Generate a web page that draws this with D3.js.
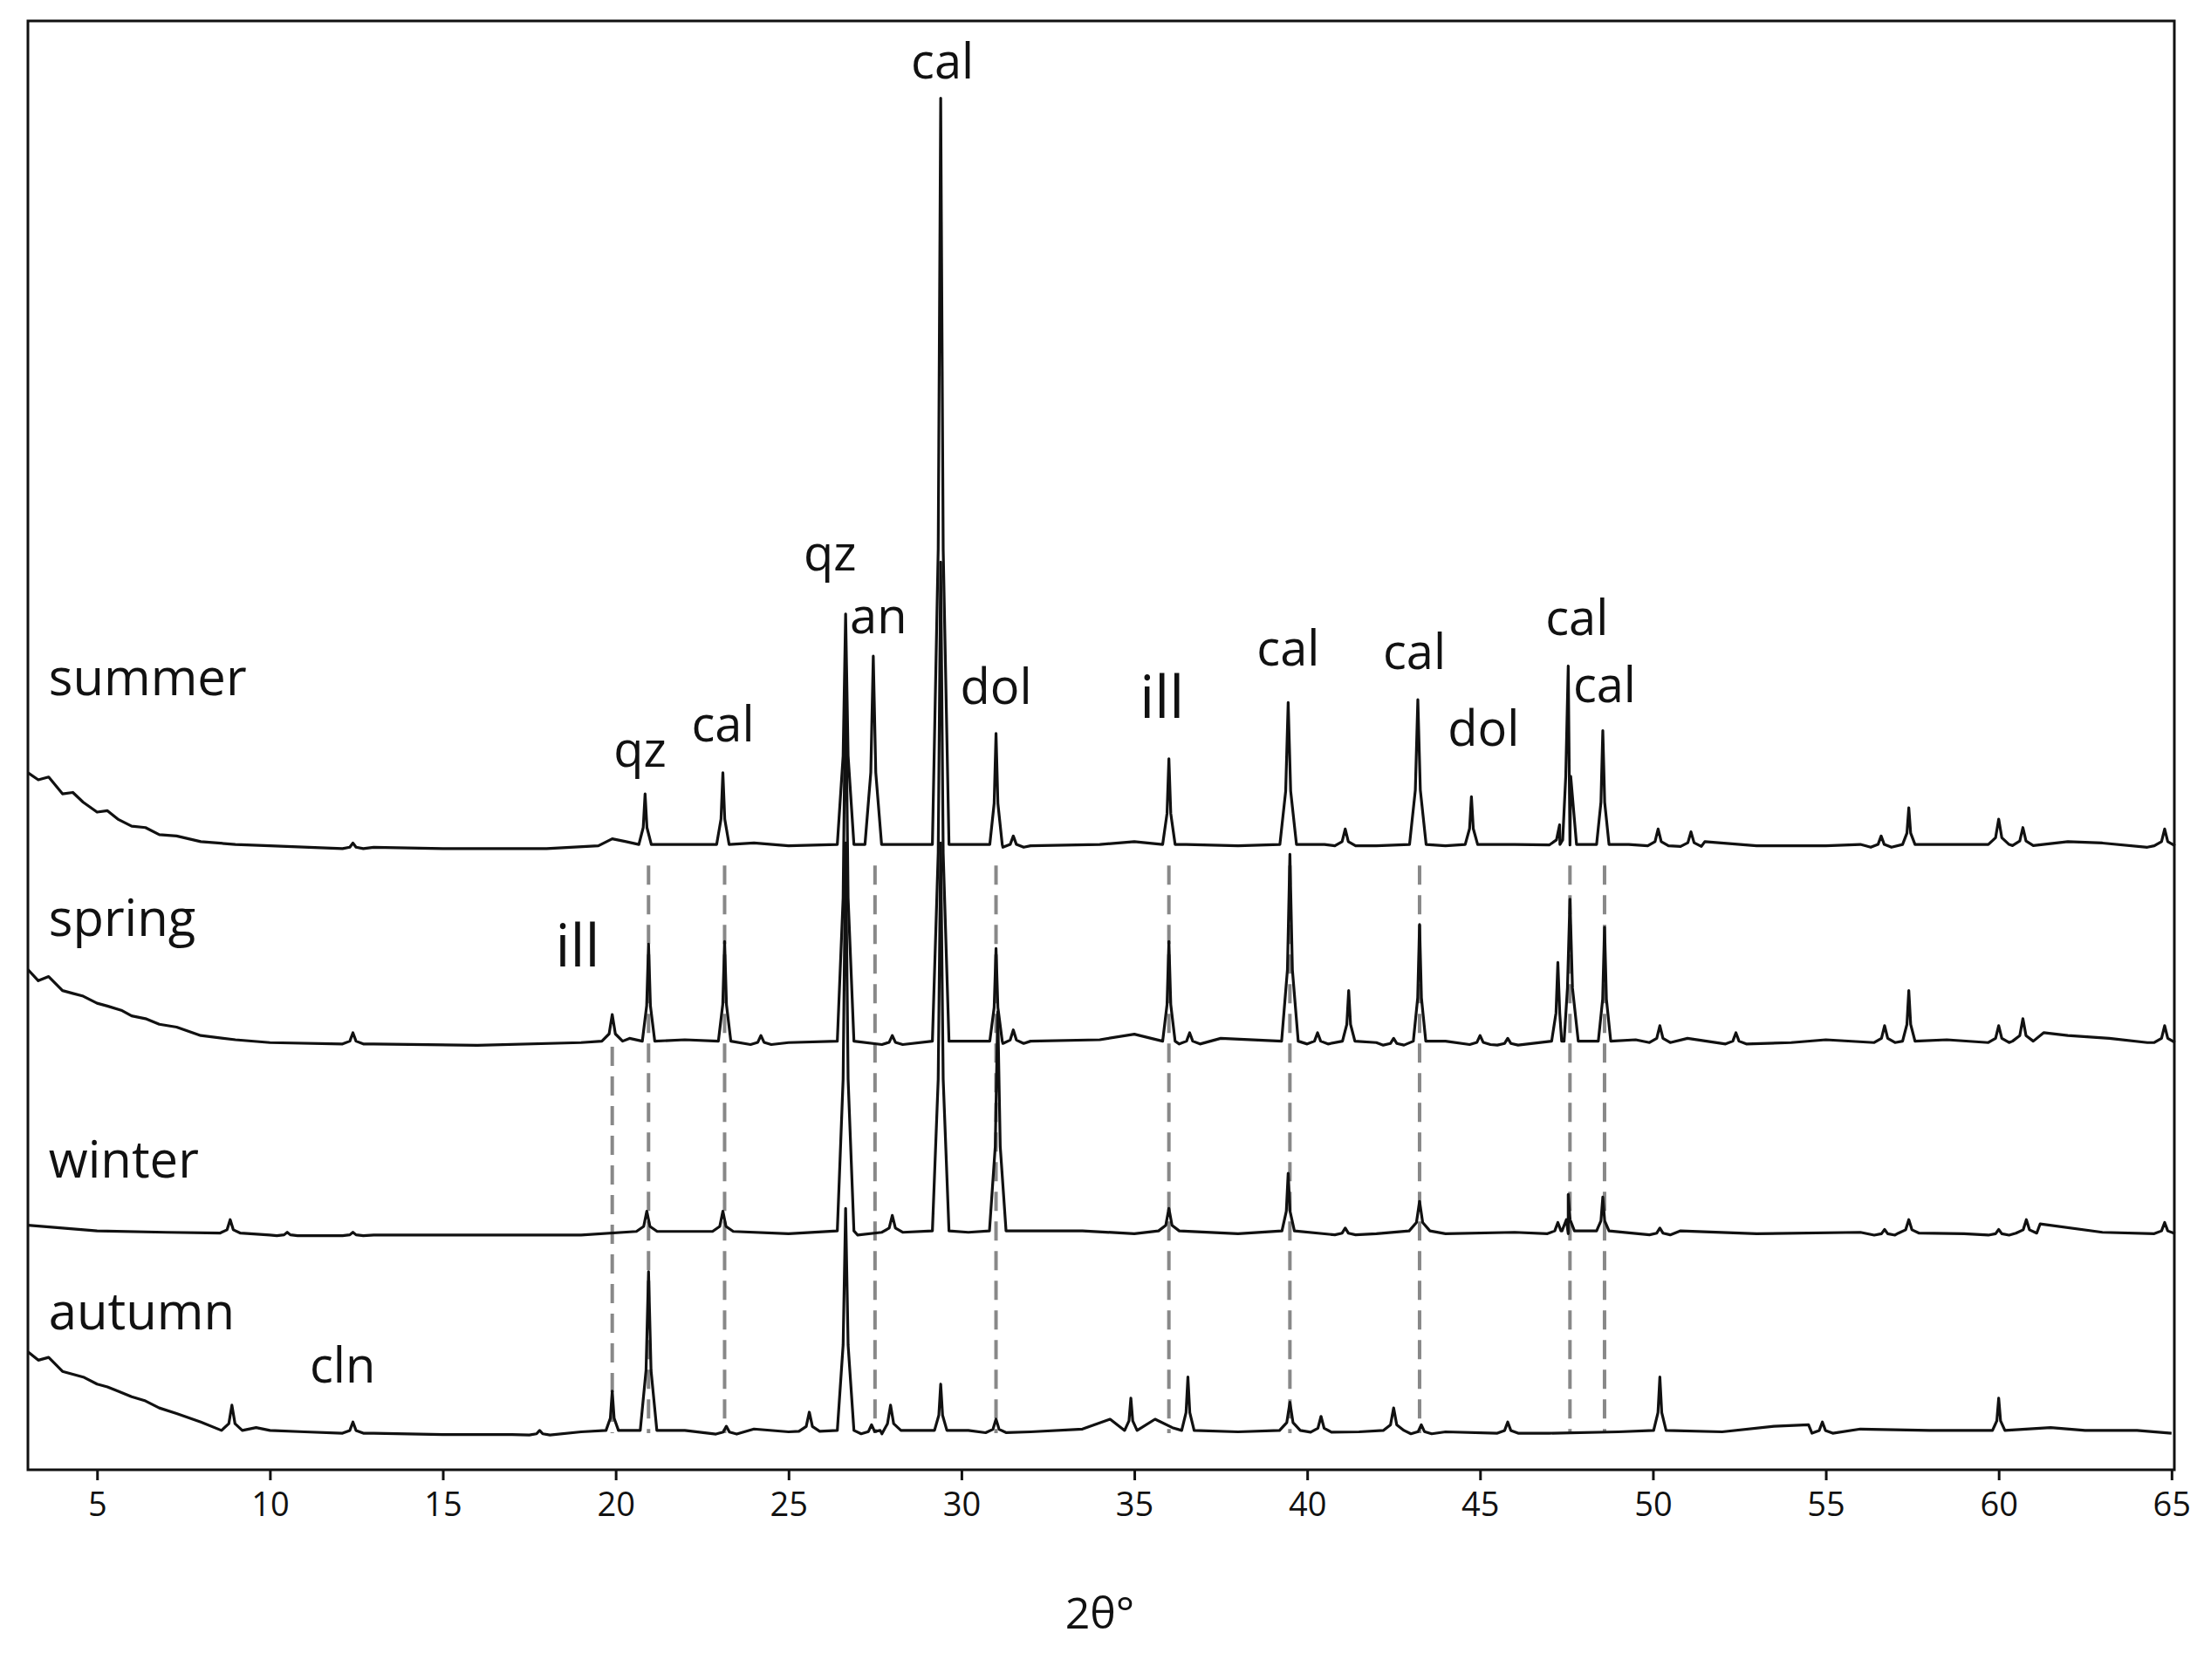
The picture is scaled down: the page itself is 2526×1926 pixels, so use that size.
<!DOCTYPE html>
<html>
<head>
<meta charset="utf-8">
<script src="https://cdn.jsdelivr.net/npm/d3@7"></script>
<style>
  body { margin: 0; background: #fff; }
  text { font-family: "Open Sans", "Liberation Sans", sans-serif; fill: #111; }
</style>
</head>
<body>
<svg id="chart" width="2526" height="1926"></svg>
<script>
// XRD patterns, heights (arbitrary units, stacked)
const seriesNames = ["summer", "spring", "winter", "autumn"];
const offsets = [441, 301, 166, 24];

// background points [2theta, height above baseline]
const summerBase = [[3,55],[3.3,50],[3.6,52],[4,40],[4.3,41],[4.6,34],[5,27],[5.3,28],[5.6,22],[6,17],[6.4,16],[6.8,11],[7.3,10],[8,6],[9,4],[10,3],[13,2],[15,1],[18,1],[19.5,3],[19.9,8],[20.3,6],[22,4],[24,5],[25,3],[28.3,4],[32,3],[34,4],[35,6],[36.5,4],[38,3],[40.5,4],[42,3],[44,3],[46,4],[47,6],[49.3,4],[51.5,6],[53,3],[55,3],[56,4],[58.5,4],[61,12],[62,6],[63,5],[64.3,2],[65,5]];
const summerPeaks = [[12.4,5],[20.85,40],[23.1,55],[26.65,168],[27.45,138],[29.4,535],[31.0,83],[31.5,10],[36.0,65],[39.45,105],[41.1,15],[43.2,107],[44.75,38],[47.3,18],[47.55,131],[48.55,85],[50.15,15],[51.1,13],[56.6,10],[57.4,30],[60.0,22],[60.7,16],[64.8,15]];

const springBase = [[3,55],[3.3,47],[3.6,50],[4,40],[4.3,38],[4.6,36],[5,31],[5.3,29],[5.7,26],[6,22],[6.4,20],[6.8,16],[7.3,14],[8,8],[9,5],[10,3],[13,2],[16,1],[19,3],[20.4,6],[22,5],[24,7],[25,3],[28.3,6],[32,4],[34,5],[35,9],[37.5,6],[40.5,5],[42,3],[44,4],[46,5],[49.5,5],[51,6],[54,3],[55,5],[58.5,5],[61.3,10],[62,8],[63.2,6],[64.3,3],[65,10]];
const springPeaks = [[12.4,10],[19.9,23],[20.95,73],[23.15,75],[24.2,8],[26.65,265],[28.0,8],[29.4,345],[31.0,70],[31.5,12],[36.0,75],[36.6,10],[39.5,137],[40.3,10],[41.2,40],[42.5,6],[43.25,87],[45.0,8],[45.8,6],[47.25,60],[47.6,105],[48.6,85],[50.2,15],[52.4,10],[56.7,15],[57.4,40],[60.0,15],[60.7,20],[64.8,15]];

const winterBase = [[3,8],[4,6],[5,4],[7,3],[10,1],[13,1],[15,1],[19,1],[25,2],[27,1],[30.2,3],[33.5,4],[35,2],[38,2],[42,2],[44,2],[46,3],[50.8,4],[53,2],[56,3],[59,2],[61.2,9],[63,3],[65,4]];
const winterPeaks = [[8.85,12],[10.5,3],[12.4,3],[20.9,18],[23.1,18],[26.65,280],[28.0,15],[29.4,280],[31.05,160],[36.0,20],[39.45,45],[41.1,6],[43.25,25],[47.25,10],[47.55,30],[48.55,28],[50.2,6],[56.7,5],[57.4,12],[60.0,5],[60.8,12],[64.8,10]];

const autumnBase = [[3,60],[3.3,54],[3.6,56],[4,46],[4.3,44],[4.6,42],[5,37],[5.3,35],[5.6,32],[6,28],[6.4,25],[6.8,20],[7.3,16],[8,10],[9.6,6],[10,4],[11,3],[13,2],[15,1],[17,1],[19,3],[22,4],[24,5],[25,3],[30.2,4],[32,3],[33.5,5],[34.3,12],[35.6,12],[36.1,6],[38,3],[41.5,3],[44,3],[47,2],[49,3],[52,3],[53.5,7],[54.5,8],[56,5],[58,4],[61.5,6],[62.5,4],[64,4],[65,2]];
const autumnPeaks = [[8.9,22],[12.4,10],[17.8,4],[19.9,32],[20.95,117],[23.2,7],[25.6,17],[26.65,162],[27.4,8],[27.95,22],[29.4,37],[31.0,12],[34.9,27],[36.55,42],[39.5,24],[40.4,14],[42.5,20],[43.3,8],[45.8,10],[50.2,42],[54.9,10],[60.0,27]];

const allBase = [summerBase, springBase, winterBase, autumnBase];
const allPeaks = [summerPeaks, springPeaks, winterPeaks, autumnPeaks];

// reference (dashed) lines: [2theta, top height]
const refLines = [[19.9,301],[20.95,430],[23.15,430],[27.5,430],[31.0,430],[36.0,430],[39.5,430],[43.25,430],[47.6,430],[48.6,430]];

// phase labels [text, 2theta, height, size]
const phaseLabels = [["cal",29.45,990,1],["qz",26.2,640,1],["an",27.6,595,1],["dol",31.0,545,1],["ill",35.8,535,1.2],["cal",39.45,572,1],["cal",43.1,570,1],["dol",45.1,515,1],["cal",47.8,594,1],["cal",48.6,546,1],["qz",20.7,500,1],["cal",23.1,518,1],["ill",18.9,358,1.2],["cln",12.1,62,1]];
const seasonLabels = [["summer",3.6,551],["spring",3.6,380],["winter",3.6,208],["autumn",3.6,100]];

const xTicks = [5,10,15,20,25,30,35,40,45,50,55,60,65];

const margin = { top: 24, right: 34, bottom: 241, left: 32 };
const width = 2526 - margin.left - margin.right;
const height = 1926 - margin.top - margin.bottom;

const svg = d3.select("#chart").append("g")
  .attr("transform", `translate(${margin.left},${margin.top})`);

const x = d3.scaleLinear().domain([3, 65.08]).range([0, width]);
const y = d3.scaleLinear().domain([0, 1031]).range([height, 0]);

// dashed reference lines
svg.selectAll(".ref").data(refLines).enter().append("line")
  .attr("x1", d => x(d[0])).attr("x2", d => x(d[0]))
  .attr("y1", d => y(d[1])).attr("y2", y(26))
  .attr("stroke", "#888").attr("stroke-width", 4).attr("stroke-dasharray", "22,12");

// build each pattern from background points and peaks
const line = d3.line().x(d => x(d[0])).y(d => y(d[1]));
allBase.forEach((base, i) => {
  const peaks = allPeaks[i];
  const wOf = p => (p[1] > 100 ? 0.24 : p[1] > 25 ? 0.18 : 0.3);
  // drop background points that fall inside a peak
  const pts = base.filter(b => !peaks.some(p => Math.abs(b[0] - p[0]) < wOf(p) + 0.05));
  peaks.forEach(p => {
    const w = wOf(p);
    const lo = Math.min(4, p[1] * 0.2);
    pts.push([p[0] - w, lo], [p[0] - w * 0.3, p[1] * 0.4], [p[0], p[1]], [p[0] + w * 0.3, p[1] * 0.4], [p[0] + w, lo]);
  });
  pts.sort((a, b) => a[0] - b[0]);
  svg.append("path")
    .datum(pts.map(d => [d[0], d[1] + offsets[i]]))
    .attr("fill", "none").attr("stroke", "#111").attr("stroke-width", 3.2)
    .attr("stroke-linejoin", "round")
    .attr("d", line);
});

// frame
svg.append("rect").attr("width", width).attr("height", height)
  .attr("fill", "none").attr("stroke", "#111").attr("stroke-width", 3);

// x axis
const xAxis = svg.append("g").attr("transform", `translate(0,${height})`)
  .call(d3.axisBottom(x).tickValues(xTicks).tickSize(12).tickPadding(14));
xAxis.select(".domain").remove();
xAxis.selectAll("line").attr("stroke", "#111").attr("stroke-width", 3);
xAxis.selectAll("text").style("font-size", "38px").attr("fill", "#111");

svg.append("text").attr("x", x(34)).attr("y", height + 182)
  .attr("text-anchor", "middle").style("font-size", "50px").text("2θ°");

svg.selectAll(".season").data(seasonLabels).enter().append("text")
  .attr("x", d => x(d[1])).attr("y", d => y(d[2]))
  .style("font-size", "58px").text(d => d[0]);

svg.selectAll(".phase").data(phaseLabels).enter().append("text")
  .attr("x", d => x(d[1])).attr("y", d => y(d[2]))
  .attr("text-anchor", "middle")
  .style("font-size", d => 56 * d[3] + "px").text(d => d[0]);
</script>
</body>
</html>
